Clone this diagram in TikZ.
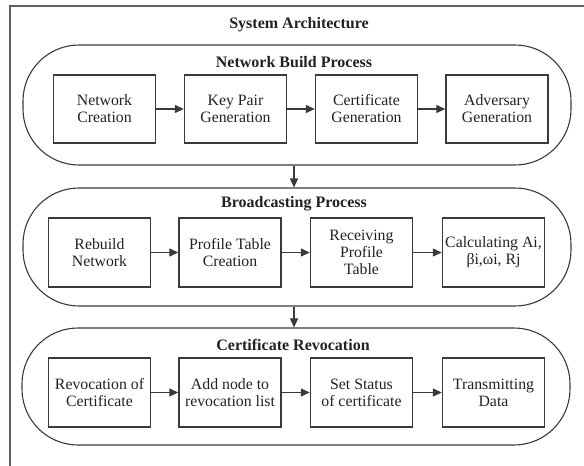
\documentclass[tikz,border=0pt]{standalone}
\usepackage{fontspec}
\setmainfont{Liberation Serif}
\usetikzlibrary{arrows.meta}
\definecolor{ln}{HTML}{3A3A3A}
\definecolor{tx}{HTML}{222222}
\tikzset{
  band/.style={draw=ln, line width=1.1pt, rounded corners=56pt, minimum height=#1, minimum width=548pt, inner sep=0pt},
  stepbox/.style={draw=ln, line width=1.4pt, minimum width=102pt, minimum height=68pt, align=center, inner sep=0.5pt, text=tx, font=\fontsize{15.8}{17}\selectfont},
  bandtitle/.style={text=tx, font=\fontsize{16}{18}\selectfont\bfseries, inner sep=0pt},
  flow/.style={draw=ln, line width=1.3pt, -{Triangle[length=9pt,width=8pt]}}
}
\begin{document}
\begin{tikzpicture}[x=1pt,y=-1pt]
\useasboundingbox (0,0) rectangle (584,466);
% outer frame (cut by page on right and bottom)
\draw[draw=ln!80, line width=1.8pt] (10,470) -- (10,6) -- (590,6);
\node[bandtitle] (title) at (299,25) {System Architecture};

% bands
\node[band=120pt] (band1) at (297,105) {};
\node[band=118pt] (band2) at (297,247) {};
\node[band=117pt] (band3) at (296,386.5) {};

\node[bandtitle] (t1) at (294,62) {Network Build Process};
\node[bandtitle] (t2) at (294,204) {Broadcasting Process};
\node[bandtitle] (t3) at (293,345) {Certificate Revocation};

% row 1
\node[stepbox] (a1) at (104.5,109) {Network\\Creation};
\node[stepbox] (a2) at (235.5,109) {Key Pair\\Generation};
\node[stepbox] (a3) at (366.5,109) {Certificate\\Generation};
\node[stepbox] (a4) at (497,109) {Adversary\\Generation};

% row 2
\node[stepbox, minimum height=69pt] (b1) at (99.5,252.5) {Rebuild\\Network};
\node[stepbox, minimum height=69pt] (b2) at (230,252.5) {Profile Table\\Creation};
\node[stepbox, minimum height=69pt] (b3) at (361.5,252.5) {Receiving\\Profile\\Table};
\node[stepbox, minimum height=69pt] (b4) at (493.5,252.5) {Calculating Ai,\\βi,ωi, Rj};

% row 3
\node[stepbox, minimum height=69pt] (c1) at (99.5,392.5) {Revocation of\\Certificate};
\node[stepbox, minimum height=69pt] (c2) at (230,392.5) {Add node to\\revocation list};
\node[stepbox, minimum height=69pt] (c3) at (361.5,392.5) {Set Status\\of certificate};
\node[stepbox, minimum height=69pt] (c4) at (493.5,392.5) {Transmitting\\Data};

% horizontal connectors
\draw[flow] (a1) -- (a2);
\draw[flow] (a2) -- (a3);
\draw[flow] (a3) -- (a4);
\draw[flow] (b1) -- (b2);
\draw[flow] (b2) -- (b3);
\draw[flow] (b3) -- (b4);
\draw[flow] (c1) -- (c2);
\draw[flow] (c2) -- (c3);
\draw[flow] (c3) -- (c4);

% vertical connectors
\draw[flow] (band1.south -| t1.south) -- (band2.north -| t1.south);
\draw[flow] (band2.south -| t1.south) -- (band3.north -| t1.south);
\end{tikzpicture}
\end{document}
